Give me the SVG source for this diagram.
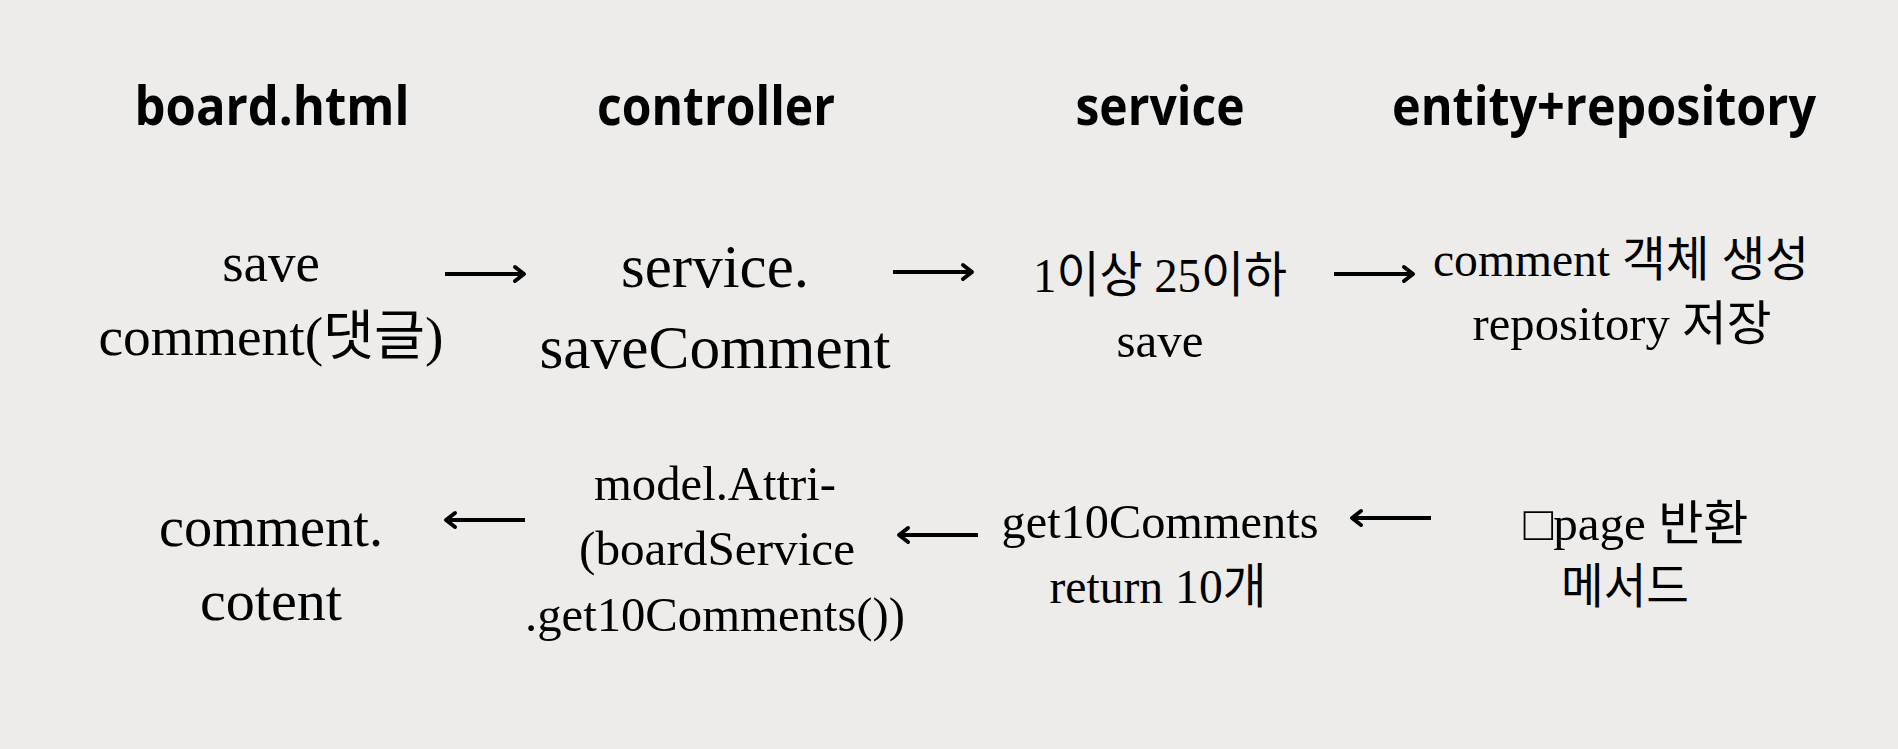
<svg xmlns="http://www.w3.org/2000/svg" width="1898" height="749" viewBox="0 0 1898 749">
<style>
.hdr{font-family:"Open Sans","Noto Sans",sans-serif;font-weight:700;font-size:54px;fill:#000;text-anchor:middle}
.t{font-family:"Liberation Serif","Noto Sans CJK KR",serif;fill:#000;text-anchor:middle}
.arr{stroke:#000;stroke-width:4;fill:none}
</style>
<defs>
<marker id="ah" viewBox="0 0 16 20" refX="13" refY="10" markerWidth="16" markerHeight="20" markerUnits="userSpaceOnUse" orient="auto">
<path d="M3,3 L12,10 L3,17" fill="none" stroke="#000" stroke-width="4" stroke-linejoin="round" stroke-linecap="round"/>
</marker>
</defs>
<rect width="1898" height="749" fill="#EDECEA"/>
<g id="headers">
<text class="hdr" x="272" y="125" textLength="275" lengthAdjust="spacingAndGlyphs">board.html</text>
<text class="hdr" x="716" y="125" textLength="238" lengthAdjust="spacingAndGlyphs">controller</text>
<text class="hdr" x="1160" y="125" textLength="169" lengthAdjust="spacingAndGlyphs">service</text>
<text class="hdr" x="1604" y="125" textLength="424" lengthAdjust="spacingAndGlyphs">entity+repository</text>
</g>
<g id="node-save-comment">
<text class="t" x="271" y="281" font-size="55">save</text>
<text class="t" x="271" y="355" font-size="54" textLength="345" lengthAdjust="spacingAndGlyphs">comment(댓글)</text>
</g>
<g id="node-service-saveComment">
<text class="t" x="715" y="287" font-size="61">service.</text>
<text class="t" x="715" y="368" font-size="61" textLength="351" lengthAdjust="spacingAndGlyphs">saveComment</text>
</g>
<g id="node-service-save">
<text class="t" x="1160" y="292" font-size="49" textLength="254" lengthAdjust="spacingAndGlyphs">1이상 25이하</text>
<text class="t" x="1160" y="357" font-size="49">save</text>
</g>
<g id="node-entity-save">
<text class="t" x="1621" y="276" font-size="48" textLength="376" lengthAdjust="spacingAndGlyphs">comment 객체 생성</text>
<text class="t" x="1622" y="340" font-size="48" textLength="299" lengthAdjust="spacingAndGlyphs">repository 저장</text>
</g>
<g id="node-comment-content">
<text class="t" x="271" y="546" font-size="56" textLength="224" lengthAdjust="spacingAndGlyphs">comment.</text>
<text class="t" x="271" y="620" font-size="56" textLength="142" lengthAdjust="spacingAndGlyphs">cotent</text>
</g>
<g id="node-model-attr">
<text class="t" x="715" y="500" font-size="48" textLength="242" lengthAdjust="spacingAndGlyphs">model.Attri-</text>
<text class="t" x="717" y="565" font-size="48" textLength="276" lengthAdjust="spacingAndGlyphs">(boardService</text>
<text class="t" x="715" y="631" font-size="48" textLength="380" lengthAdjust="spacingAndGlyphs">.get10Comments())</text>
</g>
<g id="node-get10">
<text class="t" x="1160" y="538" font-size="48" textLength="317" lengthAdjust="spacingAndGlyphs">get10Comments</text>
<text class="t" x="1158" y="603" font-size="48" textLength="217" lengthAdjust="spacingAndGlyphs">return 10개</text>
</g>
<g id="node-page">
<text class="t" x="1636" y="540" font-size="48" textLength="225" lengthAdjust="spacingAndGlyphs">□page 반환</text>
<text class="t" x="1625" y="603" font-size="48" textLength="128" lengthAdjust="spacingAndGlyphs">메서드</text>
</g>
<g id="connectors">
<path class="arr" d="M445,274 H525" marker-end="url(#ah)"/>
<path class="arr" d="M893,272 H973" marker-end="url(#ah)"/>
<path class="arr" d="M1334,274 H1414" marker-end="url(#ah)"/>
<path class="arr" d="M525,520 H445" marker-end="url(#ah)"/>
<path class="arr" d="M978,535 H898" marker-end="url(#ah)"/>
<path class="arr" d="M1431,518 H1351" marker-end="url(#ah)"/>
</g>
</svg>
